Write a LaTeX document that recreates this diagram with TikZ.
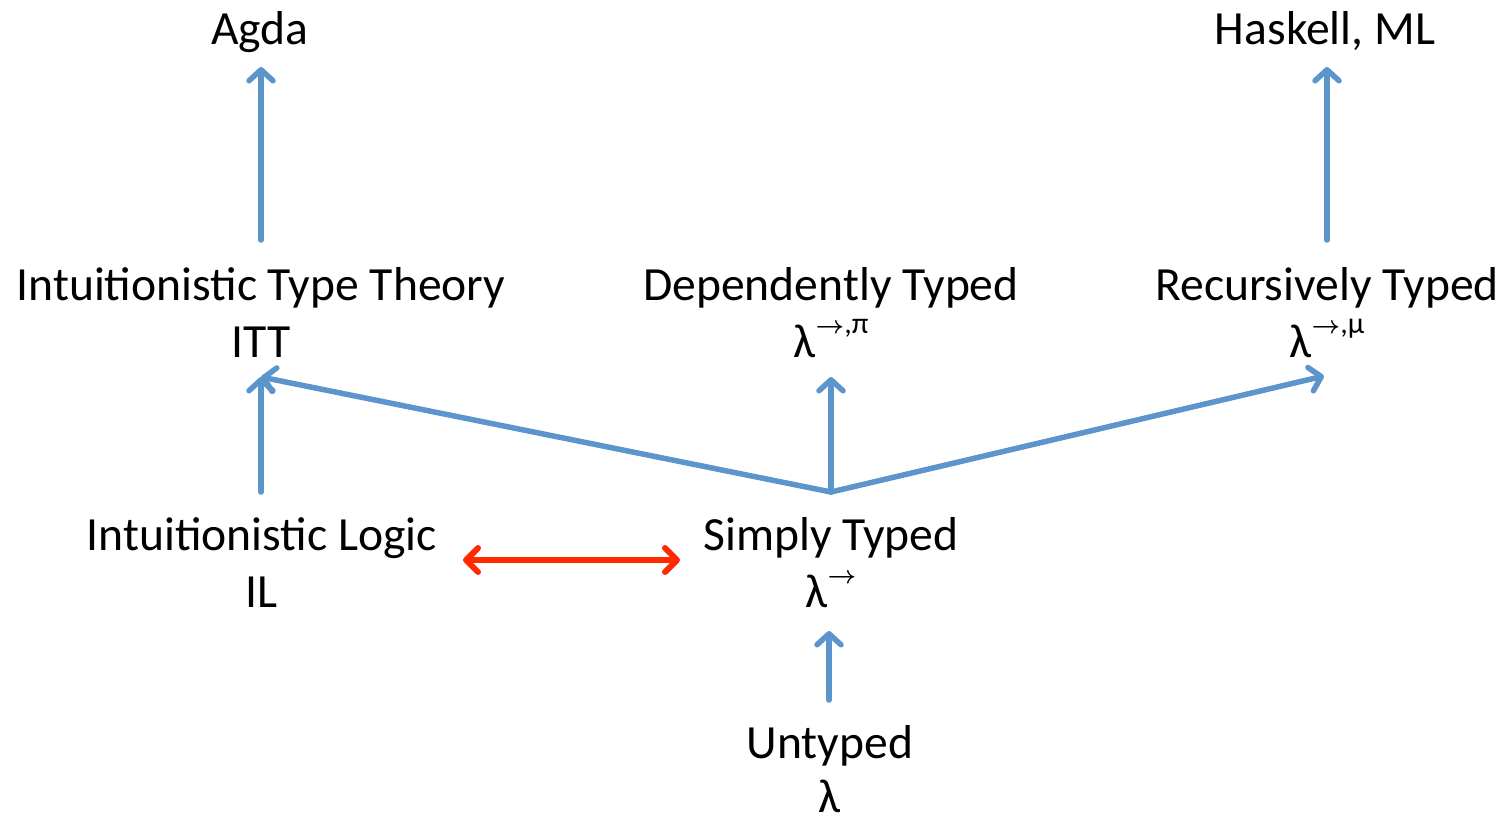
\documentclass[tikz,border=0pt]{standalone}
\usepackage{fontspec}
\setmainfont{Carlito}
\usetikzlibrary{arrows.meta}
\definecolor{pblue}{RGB}{92,148,204}
\definecolor{pred}{RGB}{255,42,0}
\newcommand{\supsc}[1]{\raisebox{0.5em}{\fontsize{30}{30}\selectfont #1}}
\newcommand{\rarr}{{\fontsize{27}{27}\selectfont\boldmath$\rightarrow$}}
\begin{document}
\begin{tikzpicture}[x=1pt,y=-1pt,
  lbl/.style={align=center,inner sep=0pt,font=\fontsize{47.6}{57}\selectfont},
  barrow/.style={pblue,line width=5.5pt,line cap=round,line join=round,
    -{Straight Barb[length=11pt,width=24pt,line cap=round,line join=round]}},
  rarrow/.style={pred,line width=6pt,line cap=round,line join=round,
    {Straight Barb[length=12pt,width=24pt,line cap=round,line join=round]}-{Straight Barb[length=12pt,width=24pt,line cap=round,line join=round]}}]
\useasboundingbox (0,0) rectangle (1507,820);
% nodes (anchored at the baseline of their last line)
\node[lbl,anchor=base] (agda) at (260,44) {Agda};
\node[lbl,anchor=base] (haskell) at (1325,44) {Haskell, ML};
\node[lbl,anchor=base] (itt) at (261,357) {Intuitionistic Type Theory\\ITT};
\node[lbl,anchor=base] (dep) at (831,357) {Dependently Typed\\λ\supsc{\rarr,π}};
\node[lbl,anchor=base] (rec) at (1327,357) {Recursively Typed\\λ\supsc{\rarr,μ}};
\node[lbl,anchor=base] (il) at (262,607) {Intuitionistic Logic\\IL};
\node[lbl,anchor=base] (st) at (831,607) {Simply Typed\\λ\supsc{\rarr}};
\node[lbl,anchor=base] (ut) at (830,812) {Untyped\\[-3pt]λ};
% connector end points
\coordinate (agdain) at (261,67);
\coordinate (ittout) at (261,240);
\coordinate (haskin) at (1327,67);
\coordinate (recout) at (1327,240);
\coordinate (ittin) at (261,377);
\coordinate (depin) at (831,377);
\coordinate (recin) at (1324,376);
\coordinate (hub) at (831,492);
\coordinate (ilout) at (261,492);
\coordinate (stin) at (829,631);
\coordinate (utout) at (829,700);
\coordinate (ilright) at (463,560);
\coordinate (stleft) at (680,560);
% connectors
\draw[barrow] (ittout) -- (agdain);
\draw[barrow] (recout) -- (haskin);
\draw[barrow] (ilout) -- (ittin);
\draw[barrow] (hub) -- (ittin);
\draw[barrow] (hub) -- (depin);
\draw[barrow] (hub) -- (recin);
\draw[barrow] (utout) -- (stin);
\draw[rarrow] (ilright) -- (stleft);
\end{tikzpicture}
\end{document}
